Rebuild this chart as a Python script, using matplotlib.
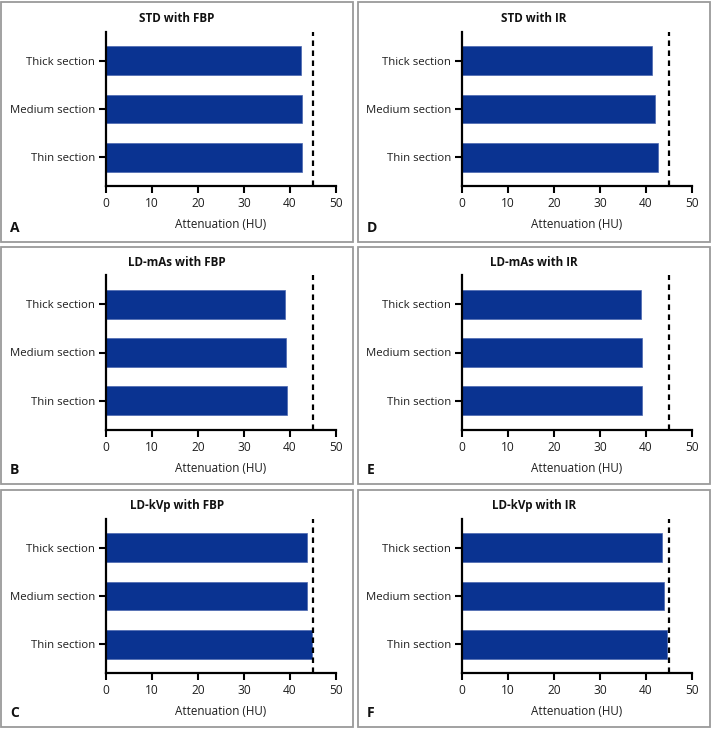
import matplotlib
matplotlib.use("Agg")
import matplotlib.pyplot as plt
from matplotlib.patches import Rectangle
from matplotlib import font_manager

# ---- data ----
categories = ["Thin section", "Medium section", "Thick section"]
std_fbp = [42.6, 42.5, 42.4]
ldmas_fbp = [39.3, 39.1, 38.9]
ldkvp_fbp = [44.8, 43.7, 43.7]
std_ir = [42.5, 42.0, 41.2]
ldmas_ir = [39.2, 39.1, 38.9]
ldkvp_ir = [44.5, 43.9, 43.4]
titles = ["STD with FBP", "LD-mAs with FBP", "LD-kVp with FBP",
          "STD with IR", "LD-mAs with IR", "LD-kVp with IR"]
letters = ["A", "B", "C", "D", "E", "F"]
reference_value = 45
x_ticks = [0, 10, 20, 30, 40, 50]
x_label = "Attenuation (HU)"

series = [std_fbp, ldmas_fbp, ldkvp_fbp, std_ir, ldmas_ir, ldkvp_ir]

names = {f.name for f in font_manager.fontManager.ttflist}
fam = [f for f in ["Liberation Sans Narrow", "Open Sans", "DejaVu Sans"] if f in names]
plt.rcParams["font.family"] = fam

W, H = 713, 731
fig = plt.figure(figsize=(W / 100, H / 100), dpi=100)

bar_color = "#0a3391"
txt = "#1e1e1e"

# layout in pixels
col_axes_x = [106, 462]
col_box_x = [(1, 353), (358, 710)]
row_axes_y = [(32, 186), (275, 430), (519, 673)]
row_box_y = [(2, 242), (247, 484), (490, 727)]

for i in range(6):
    col = i // 3
    row = i % 3
    ax_x0 = col_axes_x[col]
    ay0, ay1 = row_axes_y[row]
    ax = fig.add_axes([ax_x0 / W, 1 - ay1 / H, 230 / W, (ay1 - ay0) / H])
    ax.barh(range(len(categories)), series[i], height=0.6, color=bar_color,
            edgecolor="#4a66b0", linewidth=0.5, zorder=2)
    ax.axvline(reference_value, color="black", linestyle=(0, (2.5, 2)),
               linewidth=1.6, zorder=3)
    ax.set_xlim(0, 50)
    ax.set_ylim(-0.6, 2.6)
    ax.set_xticks(x_ticks)
    ax.set_yticks(range(len(categories)))
    ax.set_yticklabels(categories, fontsize=8.2, color=txt)
    ax.tick_params(axis="x", labelsize=8.6, length=5, width=1.5, pad=3, labelcolor=txt)
    ax.tick_params(axis="y", length=5, width=1.5, pad=3)
    for s in ["top", "right"]:
        ax.spines[s].set_visible(False)
    for s in ["left", "bottom"]:
        ax.spines[s].set_linewidth(1.6)
    ax.set_xlabel(x_label, fontsize=8.4, labelpad=6, color=txt)

    bx0, bx1 = col_box_x[col]
    by0, by1 = row_box_y[row]
    fig.patches.append(Rectangle((bx0 / W, 1 - by1 / H), (bx1 - bx0) / W, (by1 - by0) / H,
                                 transform=fig.transFigure, fill=False,
                                 edgecolor="#9a9a9a", linewidth=1.3))
    fig.text((bx0 + bx1) / 2 / W, 1 - (ay0 - 13) / H, titles[i], ha="center", va="center",
             fontsize=8.4, fontweight="bold", color="#111111")
    fig.text((bx0 + 9) / W, 1 - (by1 - 14) / H, letters[i], ha="left", va="center",
             fontsize=10, fontweight="bold", color="#111111")

fig.savefig("out.png", dpi=100)
